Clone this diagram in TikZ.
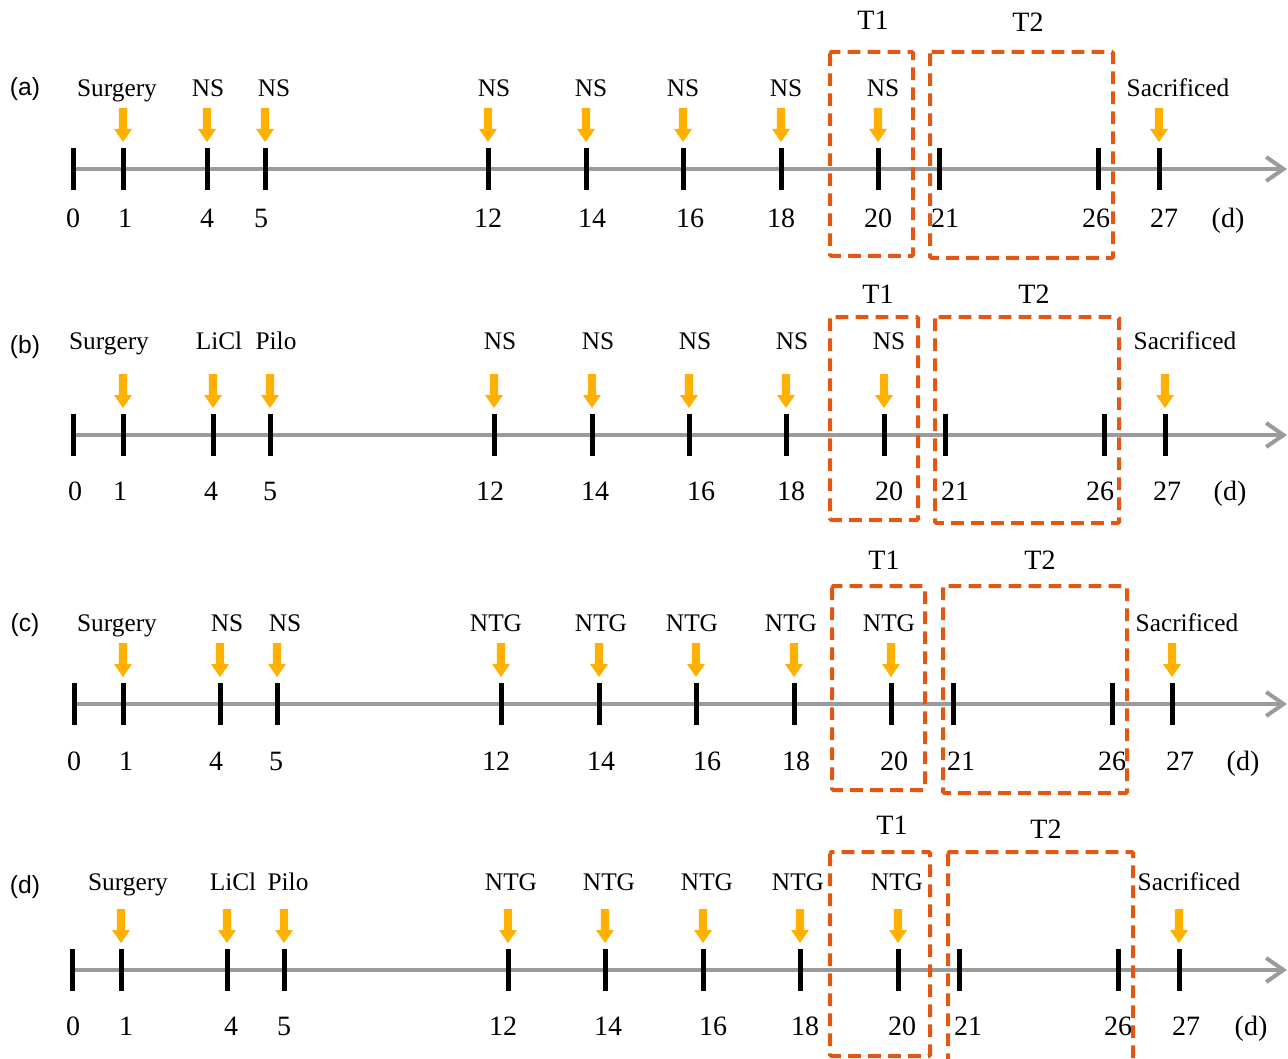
\documentclass[tikz,border=0pt]{standalone}
\usepackage{fontspec}
\setmainfont{Liberation Serif}
\newfontfamily\arialf{Liberation Sans}
\usetikzlibrary{arrows.meta}
\definecolor{axisgray}{RGB}{155,155,155}
\definecolor{arrowc}{RGB}{255,176,0}
\definecolor{boxc}{RGB}{226,88,18}
\tikzset{
  axisline/.style={draw=axisgray,line width=3pt,-{Straight Barb[length=13pt,width=18pt]}},
  tick/.style={fill=black,inner sep=0pt,minimum width=3.75pt,minimum height=31.5pt},
  numlab/.style={inner sep=0pt,text depth=0pt,text height=14pt,font=\fontsize{21}{24}\selectfont},
  toplab/.style={inner sep=0pt,text depth=0pt,text height=12.6pt,font=\fontsize{19}{22}\selectfont},
  tlab/.style={inner sep=0pt,text depth=0pt,text height=14pt,font=\fontsize{21}{24}\selectfont},
  plab/.style={inner sep=0pt,text depth=0pt,text height=13.2pt,font=\arialf\fontsize{18.5}{22}\selectfont},
  tbox/.style={draw=boxc,line width=3pt,dash pattern=on 9.5pt off 5.5pt,rounded corners=1pt},
  darrow/.pic={\fill[arrowc] (-4.2,-61) -- (4.2,-61) -- (4.2,-40) -- (9,-40) -- (0,-27) -- (-9,-40) -- (-4.2,-40) -- cycle;}
}
\begin{document}
\begin{tikzpicture}[x=0.75pt,y=-0.75pt]
\useasboundingbox (0,0) rectangle (1288,1059);
% ---------- panel (a)
\node[plab] (pa) at (25,87) {(a)};
\coordinate (aend) at (1287,169);
\foreach \x/\n in {73/0,123/1,207/4,265/5,488/12,586/14,683/16,781/18,878/20,939/21,1098/26,1159/27}
  \node[tick] (a\n) at (\x,169) {};
\draw[axisline] (a0.center) -- (aend);
\foreach \x/\n in {73/0,123/1,207/4,265/5,488/12,586/14,683/16,781/18,878/20,939/21,1098/26,1159/27}
  \node[tick] at (\x,169) {};
\foreach \x/\t [count=\i] in {73/0,125/1,207/4,261/5,488/12,592/14,690/16,781/18,878/20,945/21,1096/26,1164/27,1228/(d)}
  \node[numlab] (an\i) at (\x,218) {\t};
\foreach \x/\t [count=\i] in {117/Surgery,208/NS,274/NS,494/NS,591/NS,683/NS,786/NS,883/NS,1178/Sacrificed}
  \node[toplab] (al\i) at (\x,88) {\t};
\foreach \n in {1,4,5,12,14,16,18,20,27} \pic at (a\n) {darrow};
\draw[tbox] (830,52) rectangle (913,256);
\draw[tbox] (930,52) rectangle (1113,258);
\node[tlab] (aT1) at (873,20) {T1};
\node[tlab] (aT2) at (1028,22) {T2};
% ---------- panel (b)
\node[plab] (pb) at (25,345) {(b)};
\coordinate (bend) at (1287,435);
\foreach \x/\n in {73/0,123/1,213/4,270/5,494/12,592/14,689/16,786/18,884/20,945/21,1104/26,1165/27}
  \node[tick] (b\n) at (\x,435) {};
\draw[axisline] (b0.center) -- (bend);
\foreach \x/\n in {73/0,123/1,213/4,270/5,494/12,592/14,689/16,786/18,884/20,945/21,1104/26,1165/27}
  \node[tick] at (\x,435) {};
\foreach \x/\t [count=\i] in {75/0,120/1,211/4,270/5,490/12,595/14,701/16,791/18,889/20,955/21,1100/26,1167/27,1230/(d)}
  \node[numlab] (bn\i) at (\x,491) {\t};
\foreach \x/\t [count=\i] in {109/Surgery,219/LiCl,276/Pilo,500/NS,598/NS,695/NS,792/NS,889/NS,1185/Sacrificed}
  \node[toplab] (bl\i) at (\x,341) {\t};
\foreach \n in {1,4,5,12,14,16,18,20,27} \pic at (b\n) {darrow};
\draw[tbox] (830,317) rectangle (918,520);
\draw[tbox] (935,317) rectangle (1119,523);
\node[tlab] (bT1) at (878,294) {T1};
\node[tlab] (bT2) at (1034,294) {T2};
% ---------- panel (c)
\node[plab] (pc) at (25,623) {(c)};
\coordinate (cend) at (1287,704);
\foreach \x/\n in {74/0,123/1,220/4,277/5,501/12,599/14,696/16,794/18,891/20,953/21,1112/26,1172/27}
  \node[tick] (c\n) at (\x,704) {};
\draw[axisline] (c0.center) -- (cend);
\foreach \x/\n in {74/0,123/1,220/4,277/5,501/12,599/14,696/16,794/18,891/20,953/21,1112/26,1172/27}
  \node[tick] at (\x,704) {};
\foreach \x/\t [count=\i] in {74/0,126/1,216/4,276/5,496/12,601/14,707/16,796/18,894/20,961/21,1112/26,1180/27,1243/(d)}
  \node[numlab] (cn\i) at (\x,761) {\t};
\foreach \x/\t [count=\i] in {117/Surgery,227/NS,285/NS,496/NTG,601/NTG,692/NTG,791/NTG,889/NTG,1187/Sacrificed}
  \node[toplab] (cl\i) at (\x,623) {\t};
\foreach \n in {1,4,5,12,14,16,18,20,27} \pic at (c\n) {darrow};
\draw[tbox] (832,586) rectangle (925,790);
\draw[tbox] (943,586) rectangle (1127,793);
\node[tlab] (cT1) at (884,560) {T1};
\node[tlab] (cT2) at (1040,560) {T2};
% ---------- panel (d)
\node[plab] (pd) at (25,885) {(d)};
\coordinate (dend) at (1287,970);
\foreach \x/\n in {72/0,121/1,227/4,284/5,508/12,605/14,703/16,800/18,898/20,959/21,1118/26,1179/27}
  \node[tick] (d\n) at (\x,970) {};
\draw[axisline] (d0.center) -- (dend);
\foreach \x/\n in {72/0,121/1,227/4,284/5,508/12,605/14,703/16,800/18,898/20,959/21,1118/26,1179/27}
  \node[tick] at (\x,970) {};
\foreach \x/\t [count=\i] in {73/0,126/1,231/4,284/5,503/12,608/14,713/16,805/18,902/20,968/21,1118/26,1186/27,1251/(d)}
  \node[numlab] (dn\i) at (\x,1026) {\t};
\foreach \x/\t [count=\i] in {128/Surgery,233/LiCl,288/Pilo,511/NTG,609/NTG,707/NTG,798/NTG,897/NTG,1189/Sacrificed}
  \node[toplab] (dl\i) at (\x,882) {\t};
\foreach \n in {1,4,5,12,14,16,18,20,27} \pic at (d\n) {darrow};
\draw[tbox] (830,852) rectangle (930,1056);
\draw[tbox] (948,852) rectangle (1133,1064);
\node[tlab] (dT1) at (892,825) {T1};
\node[tlab] (dT2) at (1046,829) {T2};
\end{tikzpicture}
\end{document}
